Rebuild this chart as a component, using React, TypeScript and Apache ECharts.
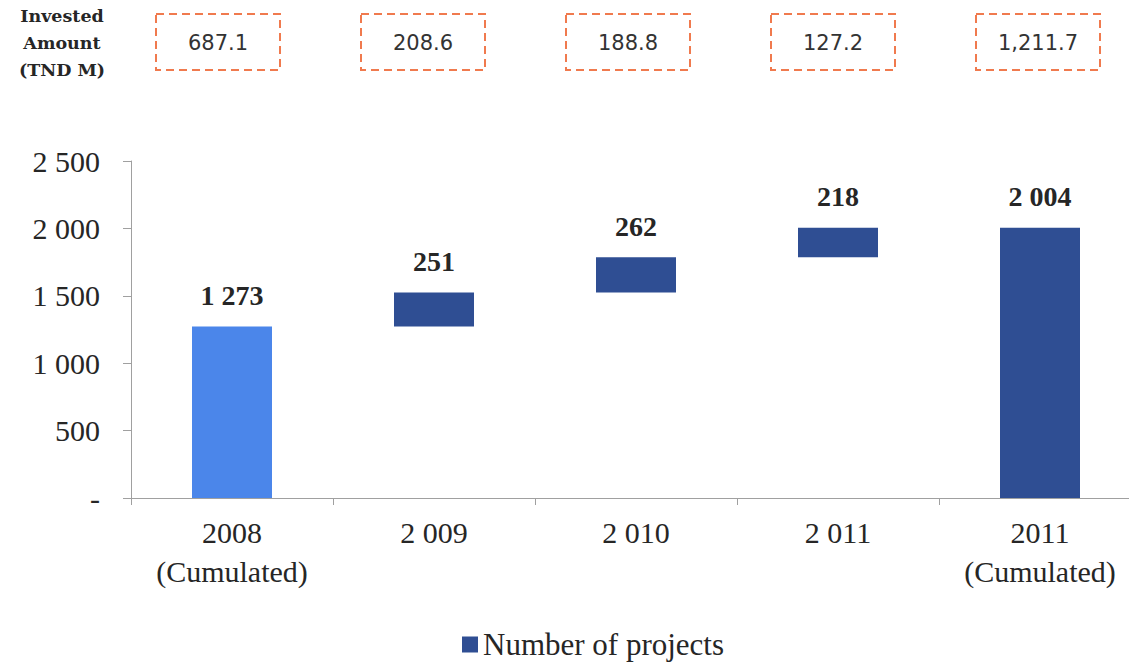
import React, { useEffect, useRef } from "react";
import * as echarts from "echarts";

const categories = ["2008\n(Cumulated)", "2 009", "2 010", "2 011", "2011\n(Cumulated)"];
const projectValues = [1273, 251, 262, 218, 2004];
const isTotal = [true, false, false, false, true];
const investedAmounts = ["687.1", "208.6", "188.8", "127.2", "1,211.7"];
const yTicks = [0, 500, 1000, 1500, 2000, 2500];

const SERIF = "'Liberation Serif', 'DejaVu Serif', serif";
const WIDE_SERIF = "'DejaVu Serif', serif";
const DARK = "#2F4E93";
const LIGHT = "#4B86EA";

function fmt(v: number): string {
  if (v === 0) return "-";
  return String(v).replace(/\B(?=(\d{3})+(?!\d))/g, " ");
}

export default function App() {
  const ref = useRef<HTMLDivElement>(null);
  useEffect(() => {
    if (!ref.current) return;
    const chart = echarts.init(ref.current, undefined, { renderer: "svg" });
    const base: number[] = [];
    let running = 0;
    projectValues.forEach((v, i) => {
      if (isTotal[i]) {
        base.push(0);
        running = v;
      } else {
        base.push(running);
        running += v;
      }
    });

    const graphic: any[] = [
      {
        type: "text",
        x: 62,
        y: 43,
        style: {
          text: "Invested\nAmount\n(TND M)",
          font: `bold 17.5px ${WIDE_SERIF}`,
          fill: "#262626",
          align: "center",
          verticalAlign: "middle",
          lineHeight: 27,
        },
      },
    ];
    investedAmounts.forEach((t, i) => {
      const cx = 218 + i * 205;
      graphic.push({
        type: "rect",
        shape: { x: cx - 62, y: 14, width: 124, height: 56 },
        style: { fill: "none", stroke: "#F07A4E", lineWidth: 2, lineDash: [8, 5] },
      });
      graphic.push({
        type: "text",
        x: cx,
        y: 43,
        style: {
          text: t,
          font: `21px 'DejaVu Sans', sans-serif`,
          fill: "#333",
          align: "center",
          verticalAlign: "middle",
        },
      });
    });

    chart.setOption({
      animation: false,
      graphic,
      grid: { left: 131, right: 4, top: 161, bottom: 168, containLabel: false },
      legend: {
        top: 624,
        left: 457,
        data: ["Number of projects"],
        icon: "rect",
        itemWidth: 16,
        itemHeight: 16,
        itemGap: 4,
        textStyle: { fontFamily: SERIF, fontSize: 31, color: "#262626" },
      },
      xAxis: {
        type: "category",
        data: categories,
        boundaryGap: true,
        axisLine: { lineStyle: { color: "#A0A0A0", width: 1 } },
        axisTick: { show: true, length: 7, lineStyle: { color: "#A0A0A0" } },
        axisLabel: {
          fontFamily: SERIF,
          fontSize: 30,
          color: "#262626",
          lineHeight: 39,
          margin: 15,
        },
      },
      yAxis: {
        type: "value",
        min: 0,
        max: 2500,
        interval: 500,
        splitLine: { show: false },
        axisLine: { show: true, lineStyle: { color: "#A0A0A0", width: 1 } },
        axisTick: { show: true, length: 8, lineStyle: { color: "#A0A0A0" } },
        axisLabel: {
          fontFamily: SERIF,
          fontSize: 30,
          color: "#262626",
          margin: 31,
          formatter: (v: number) => (yTicks.includes(v) ? fmt(v) : ""),
        },
      },
      series: [
        {
          name: "base",
          type: "bar",
          stack: "wf",
          data: base,
          barWidth: 80,
          itemStyle: { color: "transparent" },
          emphasis: { disabled: true },
          silent: true,
        },
        {
          name: "Number of projects",
          type: "bar",
          stack: "wf",
          barWidth: 80,
          data: projectValues.map((v, i) =>
            i === 0 ? { value: v, itemStyle: { color: LIGHT } } : v
          ),
          itemStyle: { color: DARK },
          label: {
            show: true,
            position: "top",
            distance: 17,
            fontFamily: SERIF,
            fontWeight: "bold",
            fontSize: 28,
            color: "#262626",
            formatter: (p: any) => fmt(p.value),
          },
        },
      ],
    });
    return () => chart.dispose();
  }, []);
  return (
    <div style={{ position: "absolute", left: 0, top: 0, width: 1129, height: 666, overflow: "hidden" }}>
      <div ref={ref} style={{ width: 1145, height: 666 }} />
    </div>
  );
}
